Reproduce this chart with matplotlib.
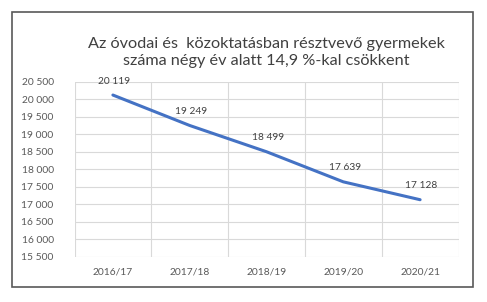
import matplotlib.pyplot as plt
from matplotlib.patches import Rectangle

# data
years = ["2016/17", "2017/18", "2018/19", "2019/20", "2020/21"]
children = [20119, 19249, 18499, 17639, 17128]
y_ticks = list(range(15500, 20501, 500))

title = "Az óvodai és  közoktatásban résztvevő gyermekek\nszáma négy év alatt 14,9 %-kal csökkent"


def fmt(v):
    return f"{v:,}".replace(",", " ")


plt.rcParams['font.family'] = ['Lato', 'DejaVu Sans']

fig = plt.figure(figsize=(4.87, 3.02), dpi=100)
ax = fig.add_axes([74.5 / 487, 1 - 256.7 / 302, 384 / 487, 175 / 302])

x = list(range(len(years)))
ax.plot(x, children, color="#4472C4", linewidth=2.2, solid_capstyle="round")

for xi, v in zip(x, children):
    ax.annotate(fmt(v), (xi, v), xytext=(1, 10), textcoords="offset points",
                ha="center", va="center", fontsize=7.3, color="#404040")

ax.set_xlim(-0.5, len(years) - 0.5)
ax.set_ylim(15500, 20500)
ax.set_yticks(y_ticks)
ax.set_yticklabels([fmt(v) for v in y_ticks])
ax.set_xticks(x)
ax.set_xticklabels(years)
ax.set_xticks([i - 0.5 for i in range(len(years) + 1)], minor=True)

ax.grid(axis="y", color="#d9d9d9", linewidth=0.8)
ax.grid(axis="x", which="minor", color="#d9d9d9", linewidth=0.8)
ax.set_axisbelow(True)
for s in ax.spines.values():
    s.set_visible(False)

ax.tick_params(axis="y", length=0, pad=15, labelsize=7.4, labelcolor="#595959")
ax.tick_params(axis="x", length=0, pad=8, labelsize=7.4, labelcolor="#595959")
ax.tick_params(axis="x", which="minor", length=0)

fig.text(266.5 / 487, 1 - 52.5 / 302, title, ha="center", va="center",
         fontsize=11.7, color="#404040", linespacing=1.25)

# outer frame
fig.patches.append(Rectangle((11.5 / 487, 1 - 287 / 302), 461.5 / 487, 275.3 / 302,
                             transform=fig.transFigure, fill=False,
                             edgecolor="#595959", linewidth=1.2))

fig.savefig("out.png", dpi=100)
